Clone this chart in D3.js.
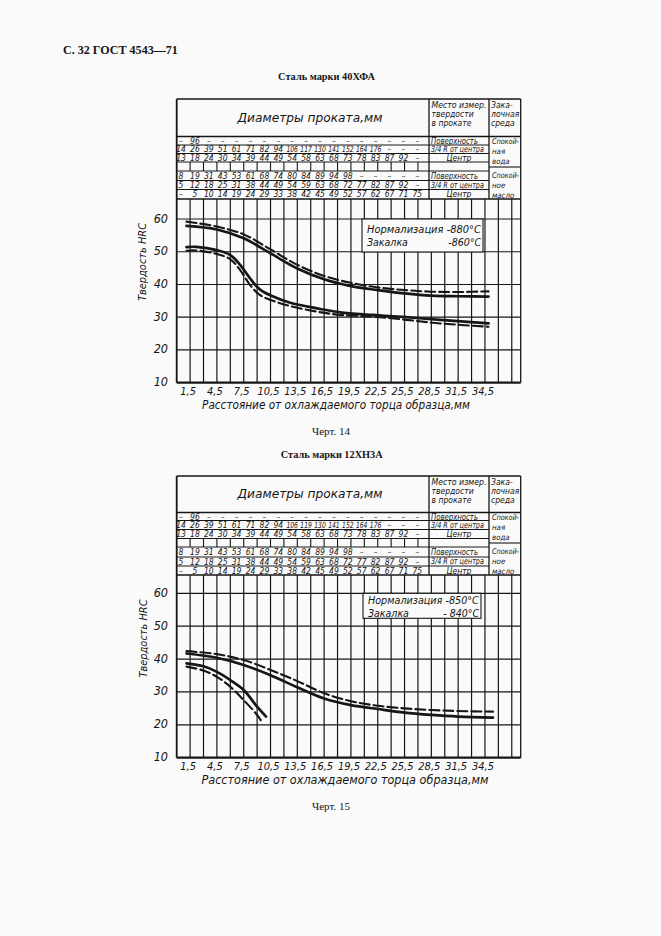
<!DOCTYPE html>
<html><head><meta charset="utf-8">
<script src="https://cdn.jsdelivr.net/npm/d3@7/dist/d3.min.js"></script>
<style>
html,body{margin:0;padding:0;background:#fafafa;}
svg{display:block;}
.hand{font-family:"DejaVu Sans","Liberation Sans",sans-serif;font-stretch:condensed;font-style:oblique;fill:#151515;}
.serif{font-family:"Liberation Serif","DejaVu Serif",serif;fill:#151515;}
</style></head><body>
<svg id="page" width="661" height="936"></svg>
<script>
// ---------------- DATA ----------------
const pageTitle = "С. 32 ГОСТ 4543—71";
const chartTitles = ["Сталь марки 40ХФА", "Сталь марки 12ХН3А"];
const chartCaptions = ["Черт. 14", "Черт. 15"];
const headerText = "Диаметры проката,мм";
const placeHeader = ["Место измер.", "твердости", "в прокате"];
const mediumHeader = ["Зака-", "лочная", "среда"];
const placeLabels = ["Поверхность", "3/4 R от центра", "Центр", "", "Поверхность", "3/4 R от центра", "Центр"];
const waterLabel = ["Спокой-", "ная", "вода"];
const oilLabel = ["Спокой-", "ное", "масло"];
const yAxisTitle = "Твердость HRC";
const xAxisTitle = "Расстояние от охлаждаемого торца образца,мм";
const xTickValues = [1.5, 4.5, 7.5, 10.5, 13.5, 16.5, 19.5, 22.5, 25.5, 28.5, 31.5, 34.5];
const yTickValues = [10, 20, 30, 40, 50, 60];
const gridStepMm = 1.5;

const legend1 = ["Нормализация -880°С", "Закалка", "-860°С"];
const legend2 = ["Нормализация -850°С", "Закалка", "- 840°С"];

const d = "–";
const chart1Rows = [
  [d,"96",d,d,d,d,d,d,d,d,d,d,d,d,d,d,d,d],
  ["14","26","39","51","61","71","82","94","106","117","130","141","152","164","176",d,d,d],
  ["13","18","24","30","34","39","44","49","54","58","63","68","73","78","83","87","92",d],
  [],
  ["8","19","31","43","53","61","68","74","80","84","89","94","98",d,d,d,d,d],
  ["5","12","18","25","31","38","44","49","54","59","63","68","72","77","82","87","92",d],
  [d,"5","10","14","19","24","29","33","38","42","45","49","52","57","62","67","71","75"]
];
const chart2Rows = [
  [d,"96",d,d,d,d,d,d,d,d,d,d,d,d,d,d,d,d],
  ["14","26","39","51","61","71","82","94","106","119","130","141","152","164","176",d,d,d],
  ["13","18","24","30","34","39","44","49","54","58","63","68","73","78","83","87","92",d],
  [],
  ["8","19","31","43","53","61","68","74","80","84","89","94","98",d,d,d,d,d],
  ["5","12","18","25","31","38","44","49","54","59","63","68","72","77","82","87","92",d],
  [d,"5","10","14","19","24","29","33","38","42","45","49","52","57","62","67","71","75"]
];

// chart 1 (40ХФА) curves: distance mm -> HRC
const c1Dist        = [1.1, 4.5, 7.5, 10.5, 13.5, 16.5, 19.5, 22.5, 25.5, 28.5, 31.5, 34.9];
const c1UpperSolid  = [57.9, 56.8, 54.1, 49.5, 44.9, 41.6, 39.5, 38.3, 37.3, 36.6, 36.4, 36.3];
const c1UpperDashed = [59.2, 57.7, 55.3, 50.7, 46.0, 42.6, 40.5, 39.1, 38.3, 37.8, 37.7, 37.9];
const c1LowerDist   = [1.1, 2.2, 4.5, 6.0, 7.1, 8.2, 9.3, 10.8, 12.7, 15.7, 18.3, 22.0, 25.7, 29.5, 34.9];
const c1LowerSolid  = [51.4, 51.5, 50.5, 49.0, 46.0, 41.9, 38.5, 36.3, 34.4, 32.7, 31.5, 30.7, 30.0, 29.2, 28.1];
const c1LowerDashed = [50.3, 50.4, 49.3, 47.7, 44.4, 39.9, 36.8, 35.0, 33.4, 31.7, 30.7, 30.2, 29.2, 28.1, 27.1];

// chart 2 (12ХН3А) curves
const c2Dist        = [1.1, 4.5, 7.5, 10.5, 13.5, 16.5, 19.5, 22.5, 25.5, 28.5, 31.5, 35.4];
const c2UpperDashed = [42.4, 41.5, 39.7, 36.7, 33.3, 29.6, 27.2, 25.8, 25.0, 24.5, 24.2, 24.0];
const c2UpperSolid  = [41.7, 40.4, 38.2, 35.1, 31.4, 28.0, 26.0, 24.8, 23.7, 23.0, 22.5, 22.2];
const c2LowerSolidDist  = [1.1, 3.0, 4.5, 6.0, 7.5, 9.0, 10.0];
const c2LowerSolid      = [38.7, 37.8, 36.1, 33.6, 30.6, 25.5, 22.5];
const c2LowerDashedDist = [1.1, 3.0, 4.5, 6.0, 7.5, 9.0, 9.5];
const c2LowerDashed     = [37.7, 36.5, 34.6, 31.6, 27.5, 23.0, 21.0];

// ---------------- DRAWING ----------------
const svg = d3.select("#page");
const INK = "#161616";

function zip(xs, ys){ return xs.map((v,i)=>[v, ys[i]]); }
function txt(g, cls, s, x, y, opt={}){
  const t = g.append("text").attr("class", cls).attr("x", x).attr("y", y).text(s)
    .attr("font-size", opt.size || 9).attr("text-anchor", opt.anchor || "start")
    .attr("dominant-baseline", "central");
  if (opt.weight) t.attr("font-weight", opt.weight);
  if (opt.len) {
    const w = t.node().getComputedTextLength();
    if (w > 0) {
      const sx = opt.len / w;
      t.attr("transform", `translate(${x},0) scale(${sx},1) translate(${-x},0)`);
    }
  }
  return t;
}

// page title
txt(svg, "serif", pageTitle, 63, 50, {size: 13.5, weight: "bold", len: 115});

function drawChart(cfg){
  const g = svg.append("g");
  const L = 176.7, R = 520.7, colM = 429, colZ = 489;
  const x = d3.scaleLinear().domain([0, 38.5]).range([L, R]);
  const y = d3.scaleLinear().domain([10, 60]).range([cfg.y10, cfg.y60]);
  const T = cfg.top, H = cfg.rows[0], B = cfg.rows[cfg.rows.length-1];
  const line = (x1,y1,x2,y2,w) => g.append("line").attr("x1",x1).attr("y1",y1).attr("x2",x2).attr("y2",y2)
      .attr("stroke", INK).attr("stroke-width", w || 1.1);

  // titles
  txt(svg, "serif", cfg.title, cfg.titleX, cfg.titleY, {size: 10.5, weight: "bold", anchor: "middle", len: cfg.titleLen});
  txt(svg, "serif", cfg.caption, cfg.capX, cfg.capY, {size: 11, anchor: "middle", len: 38});

  // vertical grid lines (every 1.5 mm)
  const gridX = d3.range(0, 38.5, gridStepMm);
  gridX.forEach(v => { if (v > 0) line(x(v), B, x(v), y(10), 1.2); });
  // blank row ticks
  gridX.forEach(v => { if (v > 0 && x(v) < colM - 2) line(x(v), cfg.rows[3], x(v), cfg.rows[4], 1.1); });

  // horizontal grid lines
  yTickValues.forEach(v => { if (v > 10) line(L, y(v), R, y(v), 1.2); });

  // table lines
  line(L, T, R, T, 1.6);
  line(L, H, R, H, 1.3);
  cfg.rows.slice(1, -1).forEach(r => line(L, r, colZ, r, 1.1));
  line(colZ, cfg.groupSep, R, cfg.groupSep, 1.1);
  line(L, B, R, B, 1.3);
  line(colM, T, colM, B, 1.3);
  line(colZ, T, colZ, B, 1.3);
  // borders / axes
  line(L, T, L, y(10), 1.8);
  line(R, T, R, y(10), 1.3);
  line(L, y(10), R, y(10), 2.2);

  // header texts
  txt(g, "hand", headerText, 310, H - 19, {size: 12.5, anchor: "middle", len: 145});
  placeHeader.forEach((s,i) => txt(g, "hand", s, colM + 2.5, T + 6 + i*9, {size: 8.5, len: i===0 ? 55 : null}));
  mediumHeader.forEach((s,i) => txt(g, "hand", s, colZ + 2, T + 6 + i*9, {size: 8.5}));

  // row numbers
  cfg.data.forEach((row, ri) => {
    const cy = (cfg.rows[ri] + cfg.rows[ri+1]) / 2;
    row.forEach((s, ci) => txt(g, "hand", s, 181 + ci*13.9, cy,
      {size: 8.5, anchor: "middle", len: s.length > 2 ? 11.5 : null}));
    const pl = placeLabels[ri];
    if (pl) {
      if (pl === "Центр") txt(g, "hand", pl, (colM + colZ)/2, cy, {size: 8.5, anchor: "middle"});
      else txt(g, "hand", pl, colM + 2, cy, {size: 8.5, len: pl.length > 12 ? 53 : 47});
    }
  });
  waterLabel.forEach((s,i) => txt(g, "hand", s, colZ + 3, cfg.rows[0] + 5 + i*10, {size: 7.8, len: i===0 ? 27 : null}));
  oilLabel.forEach((s,i) => txt(g, "hand", s, colZ + 3, cfg.rows[4] + 4.5 + i*10, {size: 7.8, len: i===0 ? 27 : null}));

  // legend box
  const lb = cfg.legendBox;
  g.append("rect").attr("x", lb[0]).attr("y", lb[1]).attr("width", lb[2]).attr("height", lb[3])
    .attr("fill", "#fafafa").attr("stroke", INK).attr("stroke-width", 1.1);
  txt(g, "hand", cfg.legend[0], lb[0] + 5, cfg.legY[0], {size: 10.5, len: lb[2] - 7});
  txt(g, "hand", cfg.legend[1], lb[0] + 5, cfg.legY[1], {size: 10.5});
  txt(g, "hand", cfg.legend[2], lb[0] + lb[2] - 2, cfg.legY[1], {size: 10.5, anchor: "end"});

  // axis tick labels
  const fmt = v => d3.format(".1f")(v).replace(".", ",");
  xTickValues.forEach(v => txt(g, "hand", fmt(v), x(v) - 2, y(10) + 9, {size: 11, anchor: "middle"}));
  yTickValues.forEach(v => txt(g, "hand", String(v), 168, y(v) - 1, {size: 12.5, anchor: "end"}));

  // axis titles
  txt(g, "hand", xAxisTitle, cfg.xTitle[0], y(10) + 22, {size: 12, anchor: "middle", len: cfg.xTitle[1]});
  g.append("text").attr("class", "hand").attr("font-size", 11).attr("text-anchor", "middle")
    .attr("dominant-baseline", "central")
    .attr("transform", `translate(${cfg.yTitle[0]},${cfg.yTitle[1]}) rotate(-90)`)
    .attr("textLength", 78).attr("lengthAdjust", "spacingAndGlyphs").text(yAxisTitle);

  // curves
  const gen = d3.line().x(p => x(p[0])).y(p => y(p[1])).curve(d3.curveCatmullRom.alpha(0.5));
  cfg.curves.forEach(c => {
    g.append("path").attr("d", gen(c.pts)).attr("fill", "none").attr("stroke", INK)
      .attr("stroke-width", c.dash ? 2.1 : 2.7).attr("stroke-linecap", "round")
      .attr("stroke-dasharray", c.dash ? "10,4" : null);
  });
}

drawChart({
  top: 99, rows: [136.5, 145, 153.5, 162, 171, 180.5, 189.5, 199], groupSep: 167,
  y10: 382.7, y60: 219, data: chart1Rows,
  title: chartTitles[0], titleX: 326.5, titleY: 76, titleLen: 97,
  caption: chartCaptions[0], capX: 331, capY: 431,
  legendBox: [362, 219, 121, 33], legend: legend1, legY: [229.3, 241.7],
  xTitle: [336, 268], yTitle: [142.3, 262],
  curves: [
    {pts: zip(c1Dist, c1UpperSolid), dash: false},
    {pts: zip(c1Dist, c1UpperDashed), dash: true},
    {pts: zip(c1LowerDist, c1LowerSolid), dash: false},
    {pts: zip(c1LowerDist, c1LowerDashed), dash: true}
  ]
});

drawChart({
  top: 476, rows: [512.5, 520.5, 529.5, 538.5, 547, 557, 566, 575], groupSep: 543,
  y10: 757.7, y60: 593.3, data: chart2Rows,
  title: chartTitles[1], titleX: 331.7, titleY: 454.5, titleLen: 102,
  caption: chartCaptions[1], capX: 331, capY: 806,
  legendBox: [363, 593.3, 118, 25], legend: legend2, legY: [600.5, 613],
  xTitle: [345, 287], yTitle: [143.3, 638.5],
  curves: [
    {pts: zip(c2Dist, c2UpperSolid), dash: false},
    {pts: zip(c2Dist, c2UpperDashed), dash: true},
    {pts: zip(c2LowerSolidDist, c2LowerSolid), dash: false},
    {pts: zip(c2LowerDashedDist, c2LowerDashed), dash: true}
  ]
});
</script>
</body></html>
